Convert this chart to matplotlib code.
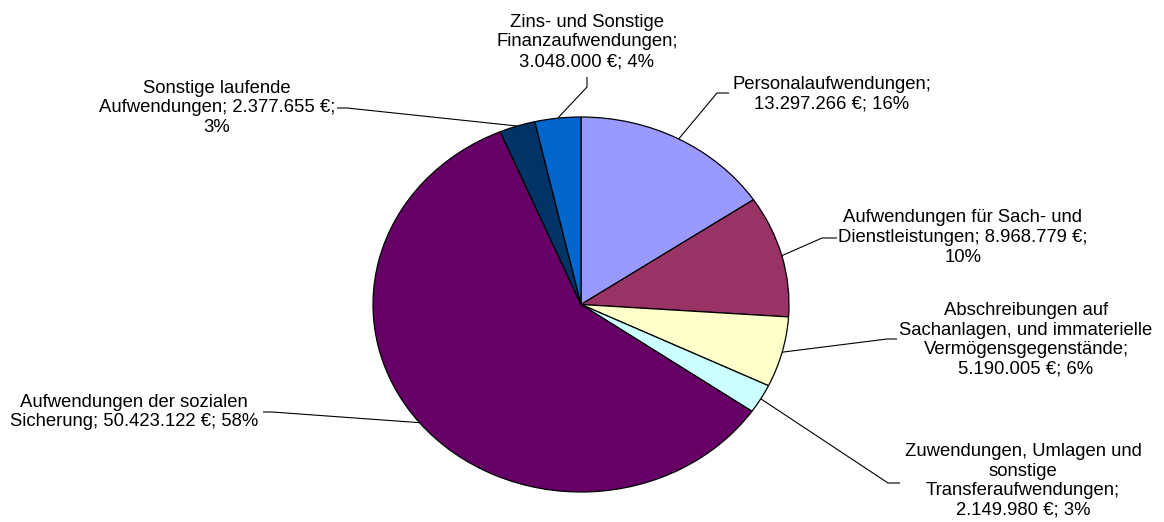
import matplotlib
matplotlib.use("Agg")
import matplotlib.pyplot as plt
import numpy as np

# ---- data ----
categories = [
    "Personalaufwendungen",
    "Aufwendungen für Sach- und Dienstleistungen",
    "Abschreibungen auf Sachanlagen, und immaterielle Vermögensgegenstände",
    "Zuwendungen, Umlagen und sonstige Transferaufwendungen",
    "Aufwendungen der sozialen Sicherung",
    "Sonstige laufende Aufwendungen",
    "Zins- und Sonstige Finanzaufwendungen",
]
values = [13297266, 8968779, 5190005, 2149980, 50423122, 2377655, 3048000]
label_texts = [
    "Personalaufwendungen;\n13.297.266 €; 16%",
    "Aufwendungen für Sach- und\nDienstleistungen; 8.968.779 €;\n10%",
    "Abschreibungen auf\nSachanlagen, und immaterielle\nVermögensgegenstände;\n5.190.005 €; 6%",
    "Zuwendungen, Umlagen und\nsonstige\nTransferaufwendungen;\n2.149.980 €; 3%",
    "Aufwendungen der sozialen\nSicherung; 50.423.122 €; 58%",
    "Sonstige laufende\nAufwendungen; 2.377.655 €;\n3%",
    "Zins- und Sonstige\nFinanzaufwendungen;\n3.048.000 €; 4%",
]
colors = ["#9999FF", "#993366", "#FFFFCC", "#CCFFFF", "#660066", "#003366", "#0066CC"]

# ---- layout (pixel positions in the 1164x522 canvas) ----
W, H = 1164, 522
CX, CY = 581, 304.5      # pie centre
RX, RY = 208, 187.5      # pie radii (ellipse)

# label block centres and leader elbows (pixels)
label_pos = [(832, 94), (963, 237.5), (1026, 340), (1023, 481),
             (134, 412), (217, 108), (587, 42)]
elbows = [
    [(717, 93), (729, 93)],
    [(822, 238), (837, 238)],
    [(887, 339), (897, 339)],
    [(888, 483), (900, 483)],
    [(272, 412), (263, 412)],
    [(347, 108), (337, 108)],
    [(587, 87), (587, 77)],
]

def px2d(x, y):
    return (x - CX) / RX, (CY - y) / RY

fig = plt.figure(figsize=(W / 100, H / 100), dpi=100)
ax = fig.add_axes([0, 0, 1, 1])
wedges, _ = ax.pie(values, colors=colors, startangle=90, counterclock=False,
                   radius=1, wedgeprops=dict(edgecolor="black", linewidth=0.9))
ax.set_aspect("auto")
ax.set_xlim(px2d(0, 0)[0], px2d(W, 0)[0])
ax.set_ylim(px2d(0, H)[1], px2d(0, 0)[1])
ax.axis("off")

for w, txt, lp, el in zip(wedges, label_texts, label_pos, elbows):
    mid = np.deg2rad((w.theta1 + w.theta2) / 2)
    pts = [(np.cos(mid), np.sin(mid))] + [px2d(*p) for p in el]
    xs, ys = zip(*pts)
    ax.plot(xs, ys, color="black", linewidth=0.8, solid_capstyle="butt")
    tx, ty = px2d(*lp)
    ax.text(tx, ty, txt, ha="center", va="center", multialignment="center",
            fontsize=13.3, family=["Liberation Sans", "DejaVu Sans"], color="black")

fig.savefig("out.png", dpi=100)
